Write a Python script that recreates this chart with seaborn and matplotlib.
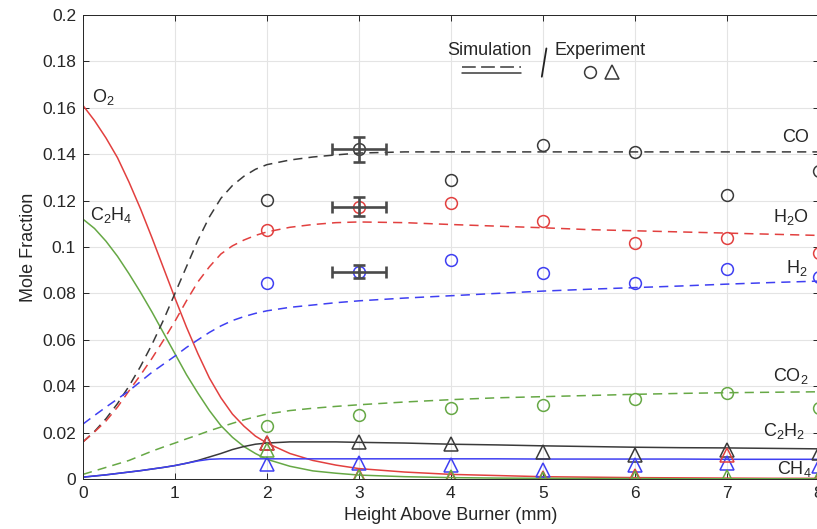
import matplotlib
matplotlib.use("Agg")
import matplotlib.pyplot as plt
import seaborn as sns

# simulation profiles (height above burner, mm)
x_sim = [0, 0.125, 0.25, 0.375, 0.5, 0.625, 0.75, 0.875, 1.0, 1.125, 1.25, 1.375, 1.5, 1.625, 1.75, 1.875,
         2.0, 2.25, 2.5, 2.75, 3.0, 3.5, 4.0, 4.5, 5.0, 5.5, 6.0, 6.5, 7.0, 7.5, 8.0]
o2_sim = [0.161, 0.1545, 0.147, 0.1385, 0.128, 0.1165, 0.104, 0.091, 0.078, 0.0655, 0.054, 0.0435, 0.035,
          0.028, 0.0228, 0.0185, 0.0155, 0.011, 0.008, 0.006, 0.0045,
          0.003, 0.002, 0.0015, 0.001, 0.0008, 0.0006, 0.0005, 0.0004, 0.0003, 0.0003]
c2h4_sim = [0.112, 0.108, 0.1025, 0.096, 0.0885, 0.0805, 0.072, 0.063, 0.054, 0.045, 0.037, 0.0295, 0.023,
            0.018, 0.014, 0.011, 0.0085, 0.0055, 0.0035, 0.0025, 0.0017,
            0.001, 0.0006, 0.0004, 0.0003, 0.0002, 0.0002, 0.0001, 0.0001, 0.0001, 0.0001]
co_sim = [0.016, 0.0205, 0.026, 0.0325, 0.040, 0.0485, 0.058, 0.0685, 0.080, 0.0915, 0.103, 0.113, 0.121,
          0.1265, 0.1305, 0.1335, 0.1355, 0.1375, 0.1388, 0.1397, 0.1405,
          0.141, 0.141, 0.141, 0.141, 0.141, 0.141, 0.141, 0.141, 0.141, 0.141]
h2o_sim = [0.016, 0.0203, 0.025, 0.031, 0.038, 0.0448, 0.052, 0.0598, 0.068, 0.0768, 0.085, 0.0915, 0.097,
           0.1005, 0.103, 0.105, 0.1065, 0.1085, 0.1097, 0.1105, 0.1108,
           0.1105, 0.1097, 0.109, 0.1083, 0.1075, 0.107, 0.1065, 0.106, 0.1055, 0.105]
h2_sim = [0.0237, 0.0274, 0.031, 0.0345, 0.038, 0.042, 0.046, 0.0495, 0.053, 0.0567, 0.060, 0.0632, 0.066,
          0.0683, 0.070, 0.0714, 0.0725, 0.074, 0.075, 0.076, 0.0768,
          0.078, 0.079, 0.080, 0.081, 0.0818, 0.0825, 0.0832, 0.084, 0.0847, 0.0853]
co2_sim = [0.002, 0.0035, 0.005, 0.0065, 0.008, 0.010, 0.012, 0.0138, 0.0155, 0.0173, 0.019, 0.0208, 0.0224,
           0.024, 0.0255, 0.0268, 0.028, 0.0295, 0.0305, 0.0313, 0.032,
           0.0332, 0.0342, 0.035, 0.0355, 0.036, 0.0365, 0.0369, 0.0372, 0.0374, 0.0376]
c2h2_sim = [0.0008, 0.0013, 0.0018, 0.0024, 0.003, 0.0036, 0.0043, 0.005, 0.0058, 0.0068, 0.008, 0.0095, 0.011,
            0.0127, 0.014, 0.015, 0.0155, 0.016, 0.016, 0.016, 0.0158,
            0.0155, 0.015, 0.0147, 0.0143, 0.014, 0.0137, 0.0135, 0.0134, 0.0132, 0.013]
ch4_sim = [0.0008, 0.0013, 0.0018, 0.0024, 0.003, 0.0036, 0.0043, 0.005, 0.0058, 0.0068, 0.0078, 0.0085, 0.0087,
           0.0087, 0.0087, 0.0087, 0.0087, 0.0087, 0.0087, 0.0087, 0.0087,
           0.0087, 0.0087, 0.0087, 0.0086, 0.0086, 0.0086, 0.0086, 0.0085, 0.0085, 0.0085]

# measurements
x_exp = [2, 3, 4, 5, 6, 7, 8]
co_exp = [0.1203, 0.1421, 0.129, 0.144, 0.141, 0.1224, 0.1329]
h2o_exp = [0.1073, 0.1174, 0.119, 0.111, 0.1017, 0.1037, 0.0976]
h2_exp = [0.0846, 0.0894, 0.0944, 0.0888, 0.0845, 0.0905, 0.0872]
co2_exp = [0.0228, 0.0276, 0.0306, 0.0319, 0.0345, 0.0372, 0.0306]
c2h2_exp = [0.0155, 0.016, 0.015, 0.0118, 0.0102, 0.0125, 0.011]
ch4_exp = [0.0065, 0.0069, 0.0062, 0.0039, 0.006, 0.0069, 0.0055]
o2_exp = [0.0155, 0.0012, 0.0005, 0.0003, 0.0013, 0.0103, 0.0005]
c2h4_exp = [0.0125, 0.0008, 0.001, 0.0002, 0.0005, 0.001, 0.001]

# error bars at 3 mm (CO, H2O, H2)
err_x = [3, 3, 3]
err_y = [0.1421, 0.1174, 0.0894]
err_dy = [0.0055, 0.004, 0.0028]
err_dx = 0.29

black = '#3a3a3a'
red = '#e2403f'
blue = '#3f3ff2'
green = '#66a845'

sns.set_theme(style="whitegrid", rc={
    "grid.color": "#e4e4e4", "grid.linewidth": 0.8,
    "axes.edgecolor": "#262626", "axes.linewidth": 0.7,
    "xtick.direction": "in", "ytick.direction": "in",
    "xtick.major.size": 4.5, "ytick.major.size": 4.5,
    "xtick.major.width": 0.7, "ytick.major.width": 0.7,
    "xtick.color": "#262626", "ytick.color": "#262626",
    "xtick.top": True, "ytick.right": True,
    "xtick.bottom": True, "ytick.left": True,
})
plt.rcParams['font.family'] = ['Liberation Sans', 'DejaVu Sans']
plt.rcParams['mathtext.default'] = 'regular'

fig = plt.figure(figsize=(8.17, 5.29), dpi=100)
ax = fig.add_axes([0.1016, 0.0945, 0.9003, 0.8771])

lw = 1.1
dash = (6, 4)
sns.lineplot(x=x_sim, y=o2_sim, color=red, lw=lw, ax=ax)
sns.lineplot(x=x_sim, y=c2h4_sim, color=green, lw=lw, ax=ax)
sns.lineplot(x=x_sim, y=c2h2_sim, color=black, lw=lw, ax=ax)
sns.lineplot(x=x_sim, y=ch4_sim, color=blue, lw=lw, ax=ax)
sns.lineplot(x=x_sim, y=co_sim, color=black, lw=lw, ax=ax).lines[-1].set_dashes(dash)
sns.lineplot(x=x_sim, y=h2o_sim, color=red, lw=lw, ax=ax).lines[-1].set_dashes(dash)
sns.lineplot(x=x_sim, y=h2_sim, color=blue, lw=lw, ax=ax).lines[-1].set_dashes(dash)
sns.lineplot(x=x_sim, y=co2_sim, color=green, lw=lw, ax=ax).lines[-1].set_dashes(dash)


def pts(y, c, m):
    sns.lineplot(x=x_exp, y=y, ax=ax, linestyle='', marker=m, markersize=10 if m == '^' else 8.5,
                 markerfacecolor='none', markeredgecolor=c, markeredgewidth=1.1)


pts(co_exp, black, 'o')
pts(h2o_exp, red, 'o')
pts(h2_exp, blue, 'o')
pts(co2_exp, green, 'o')
pts(c2h2_exp, black, '^')
pts(ch4_exp, blue, '^')
pts(o2_exp, red, '^')
pts(c2h4_exp, green, '^')

ax.errorbar(err_x, err_y, yerr=err_dy, xerr=err_dx, fmt='none', ecolor='#4a4a4a',
            elinewidth=1.9, capsize=4.5, capthick=1.9, zorder=5)

fs = 13
ax.text(0.1, 0.1647, 'O$_2$', fontsize=fs, va='center')
ax.text(0.08, 0.1138, 'C$_2$H$_4$', fontsize=fs, va='center')
ax.text(7.6, 0.1474, 'CO', fontsize=fs, va='center')
ax.text(7.5, 0.1130, 'H$_2$O', fontsize=fs, va='center')
ax.text(7.65, 0.0910, 'H$_2$', fontsize=fs, va='center')
ax.text(7.5, 0.0444, 'CO$_2$', fontsize=fs, va='center')
ax.text(7.4, 0.0205, 'C$_2$H$_2$', fontsize=fs, va='center')
ax.text(7.55, 0.0045, 'CH$_4$', fontsize=fs, va='center')

# simulation / experiment key
ax.text(4.42, 0.1849, 'Simulation', fontsize=fs, ha='center', va='center')
ax.text(5.62, 0.1849, 'Experiment', fontsize=fs, ha='center', va='center')
ax.plot([4.12, 4.76], [0.1776, 0.1776], color=black, lw=lw, dashes=(9, 3.5))
ax.plot([4.12, 4.76], [0.1751, 0.1751], color=black, lw=lw)
ax.plot([5.04, 4.99], [0.1856, 0.1734], color='#222222', lw=1.3)
ax.plot([5.51], [0.1756], marker='o', markersize=8.5, mfc='none', mec=black, mew=1.1)
ax.plot([5.75], [0.1756], marker='^', markersize=10, mfc='none', mec=black, mew=1.1)

ax.set_xlim(0, 8)
ax.set_ylim(0, 0.2)
ax.set_xticks(range(0, 9))
ax.set_yticks([0, 0.02, 0.04, 0.06, 0.08, 0.1, 0.12, 0.14, 0.16, 0.18, 0.2])
ax.set_yticklabels(['0', '0.02', '0.04', '0.06', '0.08', '0.1', '0.12', '0.14', '0.16', '0.18', '0.2'])
ax.tick_params(labelsize=12.5, colors='#262626', pad=5)
ax.set_xlabel('Height Above Burner (mm)', fontsize=13, color='#262626')
ax.set_ylabel('Mole Fraction', fontsize=13, color='#262626')
for s in ax.spines.values():
    s.set_visible(True)

fig.savefig('out.png', dpi=100)
